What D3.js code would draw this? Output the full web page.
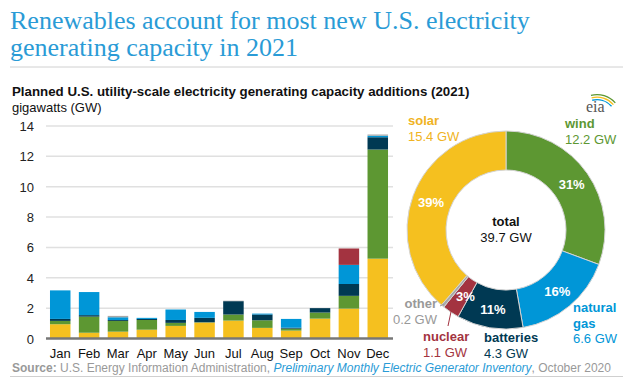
<!DOCTYPE html>
<html>
<head>
<meta charset="utf-8">
<script src="https://cdn.jsdelivr.net/npm/d3@7"></script>
<style>
	body { margin: 0; background: #fff; }
	svg { display: block; font-family: 'Liberation Sans', Arial, sans-serif; }
</style>
</head>
<body>
<div id="chart"></div>
<script>
// Monthly planned additions (GW)
const months = ['Jan', 'Feb', 'Mar', 'Apr', 'May', 'Jun', 'Jul', 'Aug', 'Sep', 'Oct', 'Nov', 'Dec'];
const solar = [0.94, 0.38, 0.45, 0.58, 0.83, 1.05, 1.18, 0.7, 0.52, 1.31, 1.97, 5.26];
const wind = [0.22, 1.06, 0.71, 0.64, 0.2, 0.02, 0.4, 0.5, 0.13, 0.4, 0.84, 7.19];
const batteries = [0.13, 0.1, 0.06, 0.07, 0.19, 0.29, 0.88, 0.38, 0.06, 0.29, 0.78, 0.81];
const naturalGas = [1.88, 1.52, 0.18, 0.07, 0.69, 0.39, 0, 0.06, 0.58, 0, 1.26, 0.1];
const nuclear = [0, 0, 0, 0, 0, 0, 0, 0, 0, 0, 1.08, 0];
const other = [0, 0, 0.09, 0, 0, 0, 0.03, 0, 0, 0, 0, 0.08];
const yTicks = [0, 2, 4, 6, 8, 10, 12, 14];

// Annual totals for the donut
const donutKeys = ['wind', 'gas', 'batteries', 'nuclear', 'other', 'solar'];
const donutValues = [12.2, 6.6, 4.3, 1.1, 0.2, 15.4];
const donutPct = ['31%', '16%', '11%', '3%', '', '39%'];
const totalGW = 39.7;

const colors = {
	solar: '#f5c01f',
	wind: '#5d9732',
	batteries: '#003953',
	gas: '#0096d7',
	nuclear: '#a33340',
	other: '#a8a8a8',
};

const W = 623, H = 377;
const svg = d3.select('#chart').append('svg').attr('width', W).attr('height', H);

// Title
const title = svg.append('text')
	.attr('x', 10).attr('y', 29)
	.style('font-family', "'Liberation Serif', 'Times New Roman', serif")
	.style('font-size', '26px')
	.attr('fill', '#2a9bd6');
title.append('tspan').attr('x', 10).attr('y', 29).text('Renewables account for most new U.S. electricity');
title.append('tspan').attr('x', 10).attr('y', 56).text('generating capacity in 2021');

svg.append('line')
	.attr('x1', 10).attr('x2', W).attr('y1', 67).attr('y2', 67)
	.attr('stroke', '#d0d0d0').attr('stroke-width', 1);

svg.append('text')
	.attr('x', 12).attr('y', 96)
	.style('font-size', '13.3px').style('font-weight', 'bold')
	.attr('fill', '#111')
	.text('Planned U.S. utility-scale electricity generating capacity additions (2021)');

svg.append('text')
	.attr('x', 12).attr('y', 112)
	.style('font-size', '13px')
	.attr('fill', '#111')
	.text('gigawatts (GW)');

// eia logo: three short arcs above the letters
const logo = svg.append('g').attr('transform', 'translate(586,112)');
[['#5d9732', 25], ['#f5c01f', 22.5], ['#0096d7', 20]].forEach(([c, r]) => {
	logo.append('path')
		.attr('d', d3.arc()({ innerRadius: r - 1.3, outerRadius: r, startAngle: -0.25, endAngle: 0.85 }))
		.attr('transform', 'translate(11,7)')
		.attr('fill', c);
});
logo.append('text')
	.attr('x', 0).attr('y', 0)
	.style('font-family', "'Liberation Serif', serif")
	.style('font-size', '16px')
	.attr('fill', '#555')
	.text('eia');

// Bar chart
const x = d3.scaleBand().domain(months).range([45.8, 392.2]).paddingInner(0.29).paddingOuter(0.145);
const y = d3.scaleLinear().domain([0, 14]).range([338.5, 126]);

svg.append('g')
	.selectAll('line')
	.data(yTicks.filter((d) => d > 0))
	.enter()
	.append('line')
	.attr('x1', 46).attr('x2', 393)
	.attr('y1', (d) => y(d)).attr('y2', (d) => y(d))
	.attr('stroke', '#e0e0e0').attr('stroke-width', 1.5);

svg.append('g')
	.selectAll('text')
	.data(yTicks)
	.enter()
	.append('text')
	.attr('x', 34).attr('y', (d) => y(d) + 5)
	.attr('text-anchor', 'end')
	.style('font-size', '13px')
	.attr('fill', '#222')
	.text((d) => d);

const table = months.map((m, i) => ({
	month: m,
	solar: solar[i],
	wind: wind[i],
	batteries: batteries[i],
	gas: naturalGas[i],
	nuclear: nuclear[i],
	other: other[i],
}));
const stackKeys = ['solar', 'wind', 'batteries', 'gas', 'nuclear', 'other'];
const series = d3.stack().keys(stackKeys)(table);

svg.append('g')
	.selectAll('g')
	.data(series)
	.enter()
	.append('g')
	.attr('fill', (s) => colors[s.key])
	.selectAll('rect')
	.data((s) => s)
	.enter()
	.append('rect')
	.attr('x', (d) => x(d.data.month))
	.attr('width', x.bandwidth())
	.attr('y', (d) => y(d[1]))
	.attr('height', (d) => y(d[0]) - y(d[1]));

svg.append('line')
	.attr('x1', 46).attr('x2', 393)
	.attr('y1', y(0)).attr('y2', y(0))
	.attr('stroke', '#777').attr('stroke-width', 2.5);

svg.append('g')
	.selectAll('text')
	.data(months)
	.enter()
	.append('text')
	.attr('x', (d) => x(d) + x.bandwidth() / 2)
	.attr('y', 358)
	.attr('text-anchor', 'middle')
	.style('font-size', '13px')
	.attr('fill', '#111')
	.text((d) => d);

// Donut
const cx = 506, cy = 230;
const pie = d3.pie().sort(null).value((d) => d.value);
const arcs = pie(donutKeys.map((k, i) => ({ key: k, value: donutValues[i], pct: donutPct[i] })));
const arc = d3.arc().innerRadius(60).outerRadius(99);
const labelArc = d3.arc().innerRadius(80).outerRadius(80);

const donut = svg.append('g').attr('transform', `translate(${cx},${cy})`);
donut.selectAll('path')
	.data(arcs)
	.enter()
	.append('path')
	.attr('d', arc)
	.attr('fill', (d) => colors[d.data.key])
	.attr('stroke', '#d4d4d4')
	.attr('stroke-width', 1);

donut.selectAll('text.pct')
	.data(arcs.filter((d) => d.data.pct))
	.enter()
	.append('text')
	.attr('class', 'pct')
	.attr('x', (d) => labelArc.centroid(d)[0] + (d.data.key === 'nuclear' ? 4 : 0))
	.attr('y', (d) => labelArc.centroid(d)[1] + 5)
	.attr('text-anchor', 'middle')
	.style('font-size', '13px').style('font-weight', 'bold')
	.attr('fill', '#fff')
	.text((d) => d.data.pct);

donut.append('text')
	.attr('y', -4).attr('text-anchor', 'middle')
	.style('font-size', '13px').style('font-weight', 'bold')
	.attr('fill', '#111')
	.text('total');
donut.append('text')
	.attr('y', 12).attr('text-anchor', 'middle')
	.style('font-size', '13px')
	.attr('fill', '#111')
	.text(totalGW + ' GW');

// Outside labels: name lines then value
const outside = [
	{ key: 'solar', lines: ['solar'], x: 408, y: 125, anchor: 'start', color: '#f0b323' },
	{ key: 'wind', lines: ['wind'], x: 565, y: 128, anchor: 'start', color: colors.wind },
	{ key: 'gas', lines: ['natural', 'gas'], x: 573, y: 312, anchor: 'start', color: colors.gas },
	{ key: 'batteries', lines: ['batteries'], x: 484, y: 342, anchor: 'start', color: colors.batteries },
	{ key: 'nuclear', lines: ['nuclear'], x: 423, y: 341, anchor: 'start', color: colors.nuclear },
	{ key: 'other', lines: ['other'], x: 437, y: 308, anchor: 'end', color: '#999' },
];
outside.forEach((o) => {
	const idx = donutKeys.indexOf(o.key);
	const t = svg.append('text')
		.attr('text-anchor', o.anchor)
		.style('font-size', '13px')
		.attr('fill', o.color);
	o.lines.forEach((line, i) => {
		t.append('tspan')
			.attr('x', o.x).attr('y', o.y + i * 15.5)
			.style('font-weight', 'bold')
			.text(line);
	});
	t.append('tspan')
		.attr('x', o.x).attr('y', o.y + o.lines.length * 15.5)
		.text(donutValues[idx] + ' GW');
});

svg.append('line')
	.attr('x1', 452).attr('y1', 307).attr('x2', 448).attr('y2', 326)
	.attr('stroke', colors.nuclear).attr('stroke-width', 1);
svg.append('line')
	.attr('x1', 444).attr('y1', 304).attr('x2', 440).attr('y2', 306)
	.attr('stroke', '#999').attr('stroke-width', 1);

// Source
const src = svg.append('text')
	.attr('x', 12).attr('y', 372)
	.style('font-size', '12px')
	.attr('fill', '#999');
src.append('tspan').style('font-weight', 'bold').text('Source:');
src.append('tspan').text(' U.S. Energy Information Administration, ');
src.append('tspan').style('font-style', 'italic').attr('fill', '#2a9bd6')
	.text('Preliminary Monthly Electric Generator Inventory');
src.append('tspan').text(', October 2020');

svg.append('line')
	.attr('x1', 10).attr('x2', W).attr('y1', 376.5).attr('y2', 376.5)
	.attr('stroke', '#d0d0d0').attr('stroke-width', 1);
</script>
</body>
</html>
